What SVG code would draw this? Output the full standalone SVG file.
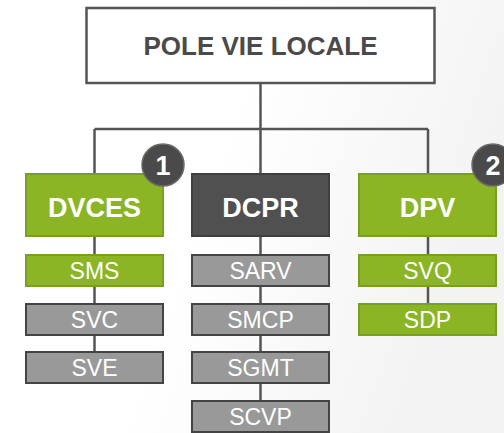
<svg xmlns="http://www.w3.org/2000/svg" width="504" height="433" viewBox="0 0 504 433">
<defs>
<linearGradient id="bg" x1="0" y1="0" x2="1" y2="0.3">
<stop offset="0.5" stop-color="#ffffff"/>
<stop offset="1" stop-color="#f3f3f3"/>
</linearGradient>
<style>
.top{fill:#ffffff;stroke:#555555;stroke-width:2.5}
.green{fill:#8bb525;stroke:#7a9f1f;stroke-width:2}
.dark{fill:#505050;stroke:#3f3f3f;stroke-width:2}
.gray{fill:#999999;stroke:#444444;stroke-width:2}
.t-top{font-family:"Liberation Sans",Arial,sans-serif;font-weight:bold;font-size:26px;fill:#4a4a4a;text-anchor:middle}
.t1{font-family:"Liberation Sans",Arial,sans-serif;font-weight:bold;font-size:27px;fill:#ffffff;text-anchor:middle}
.t2{font-family:"Liberation Sans",Arial,sans-serif;font-size:23px;fill:#ffffff;text-anchor:middle}
.badge{fill:#4a4a4a;stroke:#6a6a6a;stroke-width:1.5}
.tb{font-family:"Liberation Sans",Arial,sans-serif;font-weight:bold;font-size:27px;fill:#ffffff;text-anchor:middle}
.conn{fill:none;stroke:#555555;stroke-width:2.5}
</style>
</defs>
<rect x="0" y="0" width="504" height="433" fill="url(#bg)"/>
<g id="connectors" class="conn">
<path d="M260.5 83 V129 M94.5 129 H428 M94.5 129 V174 M260.5 129 V174 M428 129 V174"/>
<path d="M94.5 236 V255 M94.5 286 V304 M94.5 335 V352"/>
<path d="M260.5 236 V255 M260.5 286 V304 M260.5 335 V352 M260.5 383 V401"/>
<path d="M428 236 V255 M428 286 V304"/>
</g>
<g id="pole">
<rect class="top" x="86.5" y="8" width="348" height="75"/>
<text class="t-top" x="260.5" y="55">POLE VIE LOCALE</text>
</g>
<g id="dvces">
<rect class="green" x="26" y="174" width="137" height="62"/>
<text class="t1" x="94.5" y="217">DVCES</text>
</g>
<g id="dcpr">
<rect class="dark" x="192" y="174" width="137" height="62"/>
<text class="t1" x="260.5" y="217">DCPR</text>
</g>
<g id="dpv">
<rect class="green" x="359" y="174" width="137" height="62"/>
<text class="t1" x="427.5" y="217">DPV</text>
</g>
<g id="badge1">
<circle class="badge" cx="163" cy="165" r="21"/>
<text class="tb" x="163" y="175">1</text>
</g>
<g id="badge2">
<circle class="badge" cx="493" cy="165" r="21"/>
<text class="tb" x="493" y="175">2</text>
</g>
<g id="sms"><rect class="green" x="26" y="255" width="137" height="31"/><text class="t2" x="94.5" y="278.5">SMS</text></g>
<g id="svc"><rect class="gray" x="26" y="304" width="137" height="31"/><text class="t2" x="94.5" y="327.5">SVC</text></g>
<g id="sve"><rect class="gray" x="26" y="352" width="137" height="31"/><text class="t2" x="94.5" y="375.5">SVE</text></g>
<g id="sarv"><rect class="gray" x="192" y="255" width="137" height="31"/><text class="t2" x="260.5" y="278.5">SARV</text></g>
<g id="smcp"><rect class="gray" x="192" y="304" width="137" height="31"/><text class="t2" x="260.5" y="327.5">SMCP</text></g>
<g id="sgmt"><rect class="gray" x="192" y="352" width="137" height="31"/><text class="t2" x="260.5" y="375.5">SGMT</text></g>
<g id="scvp"><rect class="gray" x="192" y="401" width="137" height="31"/><text class="t2" x="260.5" y="424.5">SCVP</text></g>
<g id="svq"><rect class="green" x="359" y="255" width="137" height="31"/><text class="t2" x="427.5" y="278.5">SVQ</text></g>
<g id="sdp"><rect class="green" x="359" y="304" width="137" height="31"/><text class="t2" x="427.5" y="327.5">SDP</text></g>
</svg>
